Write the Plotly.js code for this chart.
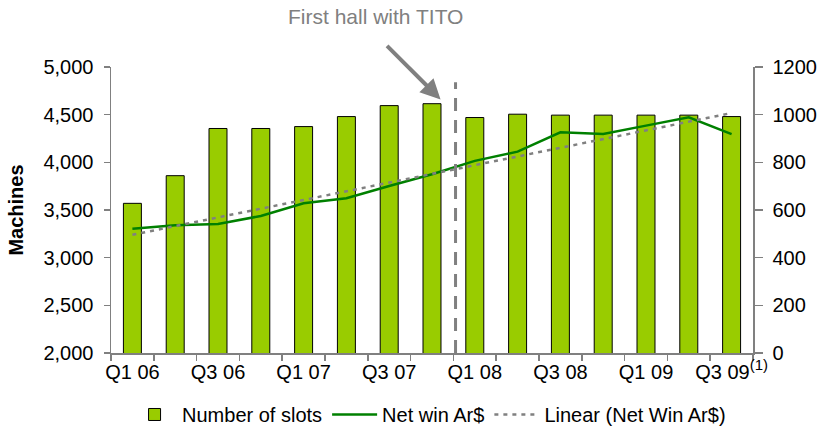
<!DOCTYPE html>
<html>
<head>
<meta charset="utf-8">
<script src="https://cdn.plot.ly/plotly-3.0.1.min.js"></script>
<style>html,body{margin:0;padding:0;background:#fff;}#chart{width:821px;height:434px;}</style>
</head>
<body>
<div id="chart"></div>
<script>
// ---- data ----
var quarters = ['Q1 06','Q2 06','Q3 06','Q4 06','Q1 07','Q2 07','Q3 07','Q4 07',
                'Q1 08','Q2 08','Q3 08','Q4 08','Q1 09','Q2 09','Q3 09'];
var tickLabels = ['Q1 06',' ','Q3 06',' ','Q1 07',' ','Q3 07',' ',
                  'Q1 08',' ','Q3 08',' ','Q1 09',' ','Q3 09<sup><span style="font-size:15px">(1)</span></sup>'];
var slots = [3570, 3860, 4355, 4355, 4375, 4480, 4595, 4615,
             4470, 4505, 4495, 4495, 4495, 4495, 4480];
var netWin = [521, 536, 541, 575, 628, 649, 701, 750,
              806, 845, 926, 919, 954, 989, 918];
var trendQuarters = ['Q1 06', 'Q3 09'];
var trendValues = [496, 1007];
var leftTicks = [2000, 2500, 3000, 3500, 4000, 4500, 5000];
var rightTicks = [0, 200, 400, 600, 800, 1000, 1200];

var FONT = 'Arial, "Liberation Sans", sans-serif';
var GRAY = '#808080';

var traces = [
  {
    type: 'bar', name: 'Number of slots', x: quarters, y: slots,
    marker: {color: '#99CC00', line: {color: '#000000', width: 1}},
    yaxis: 'y'
  },
  {
    type: 'scatter', mode: 'lines', name: 'Net win Ar$', x: quarters, y: netWin,
    line: {color: '#008000', width: 2.5}, yaxis: 'y2'
  },
  {
    type: 'scatter', mode: 'lines', name: 'Linear (Net Win Ar$)', x: trendQuarters, y: trendValues,
    line: {color: GRAY, width: 2.5, dash: '4px,5px'}, yaxis: 'y2'
  }
];

var layout = {
  width: 821, height: 434,
  margin: {l: 111, r: 68, t: 67, b: 81, pad: 0, autoexpand: false},
  paper_bgcolor: '#ffffff', plot_bgcolor: '#ffffff',
  font: {family: FONT, size: 20, color: '#000000'},
  bargap: 0.58,
  showlegend: true,
  legend: {
    orientation: 'h', x: 0.025, xanchor: 'left', y: -0.215, yanchor: 'middle',
    font: {family: FONT, size: 20, color: '#000000'}, traceorder: 'normal',
    itemwidth: 45, tracegroupgap: 0
  },
  xaxis: {
    type: 'category', tickmode: 'array', tickvals: quarters, ticktext: tickLabels,
    tickson: 'boundaries', ticks: 'outside', ticklen: 6, tickcolor: GRAY, tickwidth: 1.5,
    tickangle: 0, automargin: false,
    showline: true, linecolor: GRAY, linewidth: 1.5, showgrid: false, zeroline: false,
    tickfont: {family: FONT, size: 20, color: '#000000'}, range: [-0.5, 14.5]
  },
  yaxis: {
    range: [2000, 5000], tickmode: 'array', tickvals: leftTicks, tickformat: ',d',
    ticks: 'outside', ticklen: 6, tickcolor: GRAY, tickwidth: 1.5, ticklabelstandoff: 6,
    automargin: false,
    showline: true, linecolor: GRAY, linewidth: 1.5, showgrid: false, zeroline: false,
    tickfont: {family: FONT, size: 20, color: '#000000'},
    title: {text: '<b>Machines</b>', font: {family: FONT, size: 20, color: '#000000'}, standoff: 14}
  },
  yaxis2: {
    overlaying: 'y', side: 'right', range: [0, 1200], tickmode: 'array', tickvals: rightTicks,
    tickformat: 'd', ticks: 'outside', ticklen: 8, tickcolor: GRAY, tickwidth: 1.5, ticklabelstandoff: 6,
    automargin: false,
    showline: true, linecolor: GRAY, linewidth: 1.5, showgrid: false, zeroline: false,
    tickfont: {family: FONT, size: 20, color: '#000000'}
  },
  shapes: [
    {type: 'line', xref: 'x', yref: 'y', x0: 7.55, x1: 7.55, y0: 2000, y1: 4840,
     line: {color: GRAY, width: 3, dash: '13px,9px'}, layer: 'above'}
  ],
  annotations: [
    {text: 'First hall with TITO', xref: 'x', yref: 'paper', x: 5.69, y: 1.175,
     xanchor: 'center', yanchor: 'middle', showarrow: false,
     font: {family: FONT, size: 21, color: GRAY}},
    {text: '', xref: 'x', yref: 'y', x: 7.2, y: 4660, ax: -55, ay: -55,
     showarrow: true, arrowhead: 2, arrowsize: 1, arrowwidth: 4, arrowcolor: GRAY, standoff: 0}
  ]
};

Plotly.newPlot('chart', traces, layout, {displayModeBar: false, staticPlot: true});
</script>
</body>
</html>
